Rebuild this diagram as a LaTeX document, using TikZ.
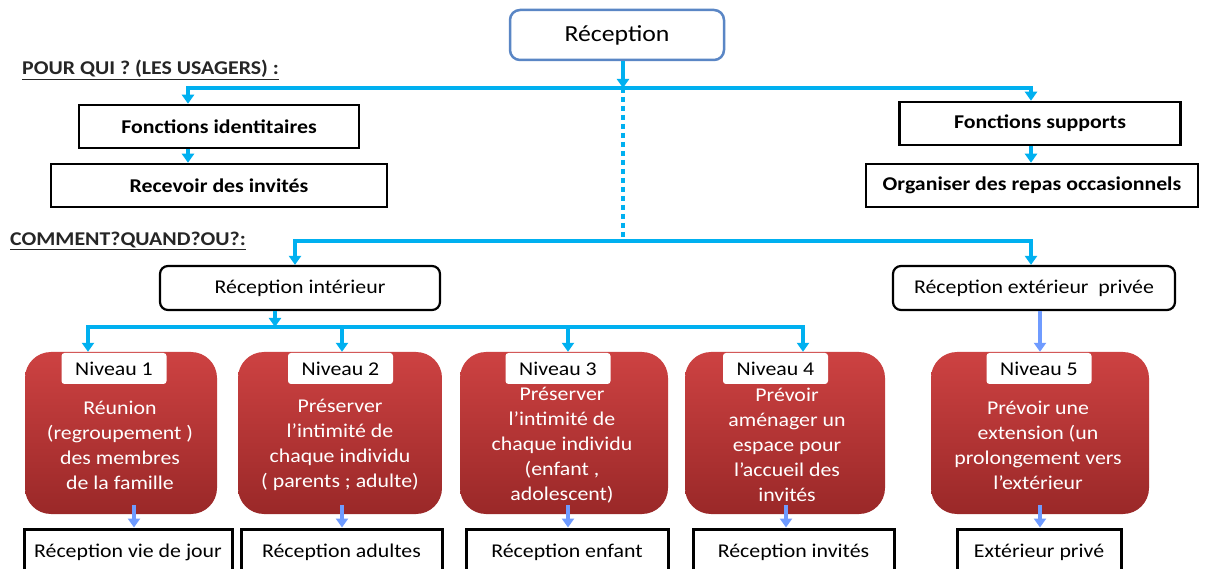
\documentclass[tikz,border=0pt]{standalone}
\usepackage{fontspec}
\setmainfont{Carlito}[FakeStretch=1.12]
\usetikzlibrary{arrows.meta,calc}
\definecolor{cyanL}{HTML}{00B0F0}
\definecolor{blueL}{HTML}{6F9BFF}
\definecolor{redT}{HTML}{CD4242}
\definecolor{redB}{HTML}{9A2828}
\definecolor{topB}{HTML}{5A86C5}
\definecolor{hdrC}{HTML}{262626}
\tikzset{
  bus/.style={draw=cyanL, line width=3.5pt},
  arr/.style={bus, -{Triangle[width=12pt,length=9pt]}},
  arrB/.style={draw=blueL, line width=3.5pt, -{Triangle[width=12pt,length=9pt]}},
  topbox/.style={draw=topB, line width=2.5pt, rounded corners=10pt, fill=white,
    minimum width=214pt, minimum height=50pt, font=\fontsize{23}{27}\selectfont},
  hdr/.style={text=hdrC, inner sep=0pt, font=\fontsize{19.5}{23}\selectfont\bfseries},
  bbox/.style={draw=black, line width=2.5pt, fill=white, minimum height=43pt, inner sep=0pt,
    font=\fontsize{19.5}{23}\selectfont\bfseries},
  rbox/.style={draw=black, line width=2.2pt, rounded corners=8pt, fill=white,
    minimum height=44pt, inner sep=0pt, font=\fontsize{19.5}{23}\selectfont},
  redbox/.style={rounded corners=26pt, top color=redT, bottom color=redB, draw=none,
    minimum height=162pt},
  lvl/.style={fill=white, rounded corners=3pt, minimum width=105pt, minimum height=31pt,
    inner sep=0pt, font=\fontsize{19.5}{23}\selectfont},
  rtext/.style={text=white, align=center, inner sep=0pt, font=\fontsize{19.5}{25}\selectfont},
  bot/.style={draw=black, line width=3pt, fill=white, minimum height=46pt, inner sep=0pt,
    font=\fontsize{19.5}{23}\selectfont}
}
\begin{document}
\begin{tikzpicture}[x=1pt,y=-1pt]
\useasboundingbox[fill=white] (0,0) rectangle (1211,569);

% top
\node[topbox] (rec) at (617,35) {Réception};
\node[hdr, anchor=west] (h1) at (22,70) {\underline{POUR QUI ? (LES USAGERS) :}};
\node[bbox, minimum width=280pt] (fi) at (219,126.5) {Fonctions identitaires};
\node[bbox, minimum width=336pt] (rv) at (219,185.5) {Recevoir des invités};
\node[bbox, minimum width=281pt] (fs) at (1040,123.5) {Fonctions supports};
\node[bbox, minimum width=332pt] (og) at (1032,185.5) {Organiser des repas occasionnels};
\node[hdr, anchor=west] (h2) at (10,241) {\underline{COMMENT?QUAND?OU?:}};
\node[rbox, minimum width=280pt] (ri) at (300,288) {Réception intérieur};
\node[rbox, minimum width=282pt] (re) at (1034,288) {Réception extérieur\ \ privée};

\coordinate (b1) at (623,88);
\coordinate (b2) at (623,241);
\coordinate (b3) at (275,327);

% red boxes
\node[redbox, minimum width=192pt] (n1) at (121,433) {};
\node[redbox, minimum width=204pt] (n2) at (340,433) {};
\node[redbox, minimum width=208pt] (n3) at (564,433) {};
\node[redbox, minimum width=200pt] (n4) at (785,433) {};
\node[redbox, minimum width=218pt] (n5) at (1040,433) {};

\node[lvl] (l1) at (114,368.5) {Niveau 1};
\node[lvl] (l2) at (340.5,368.5) {Niveau 2};
\node[lvl] (l3) at (558,368.5) {Niveau 3};
\node[lvl] (l4) at (775.5,368.5) {Niveau 4};
\node[lvl] (l5) at (1039,368.5) {Niveau 5};

\node[rtext] (t1) at (120,445) {Réunion\\(regroupement )\\des membres\\de la famille};
\node[rtext] (t2) at (340,445) {Préserver\\l’intimité de\\chaque individu\\( parents ; adulte)};
\node[rtext] (t3) at (562,445) {Préserver\\l’intimité de\\chaque individu\\(enfant ,\\ adolescent)};
\node[rtext] (t4) at (787,445) {Prévoir\\aménager un\\espace pour\\l’accueil des\\invités};
\node[rtext] (t5) at (1038,445) {Prévoir une\\extension (un\\prolongement vers\\l’extérieur};

% bottom boxes
\node[bot, minimum width=208pt] (e1) at (128,552) {Réception vie de jour};
\node[bot, minimum width=201pt] (e2) at (341.5,552) {Réception adultes};
\node[bot, minimum width=202pt] (e3) at (567,552) {Réception enfant};
\node[bot, minimum width=201pt] (e4) at (793.5,552) {Réception invités};
\node[bot, minimum width=164pt] (e5) at (1039,552) {Extérieur privé};

% connectors
\draw[arr] (rec.south -| b1) -- (b1);
\draw[arr] (b1) -| ([xshift=-31pt]fi.north);
\draw[arr] (b1) -| ([xshift=-9pt]fs.north);
\draw[arr] ([xshift=-31pt]fi.south) -- ([xshift=-31pt]rv.north);
\draw[arr] ([xshift=-9pt]fs.south) -- ([xshift=-9pt]fs.south |- og.north);
\draw[bus, dash pattern=on 5pt off 4pt] (b1) -- (b2);
\draw[arr] (b2) -| ([xshift=-5pt]ri.north);
\draw[arr] (b2) -| ([xshift=-3pt]re.north);
\draw[arr] ([xshift=-25pt]ri.south) -- (b3);
\draw[arr] (b3) -| ([xshift=-33pt]n1.north);
\draw[arr] (b3) -| ([xshift=2pt]n2.north);
\draw[arr] (b3) -| ([xshift=4pt]n3.north);
\draw[arr] (b3) -| ([xshift=18pt]n4.north);
\draw[arrB] (n5.north |- re.south) -- (n5.north);

\draw[arrB] ([xshift=13pt,yshift=9pt]n1.south) -- ([xshift=13pt]n1.south |- e1.north);
\draw[arrB] ([xshift=2pt,yshift=9pt]n2.south) -- ([xshift=2pt]n2.south |- e2.north);
\draw[arrB] ([xshift=4pt,yshift=9pt]n3.south) -- ([xshift=4pt]n3.south |- e3.north);
\draw[arrB] ([xshift=1pt,yshift=9pt]n4.south) -- ([xshift=1pt]n4.south |- e4.north);
\draw[arrB] ([yshift=9pt]n5.south) -- (n5.south |- e5.north);
\end{tikzpicture}
\end{document}
